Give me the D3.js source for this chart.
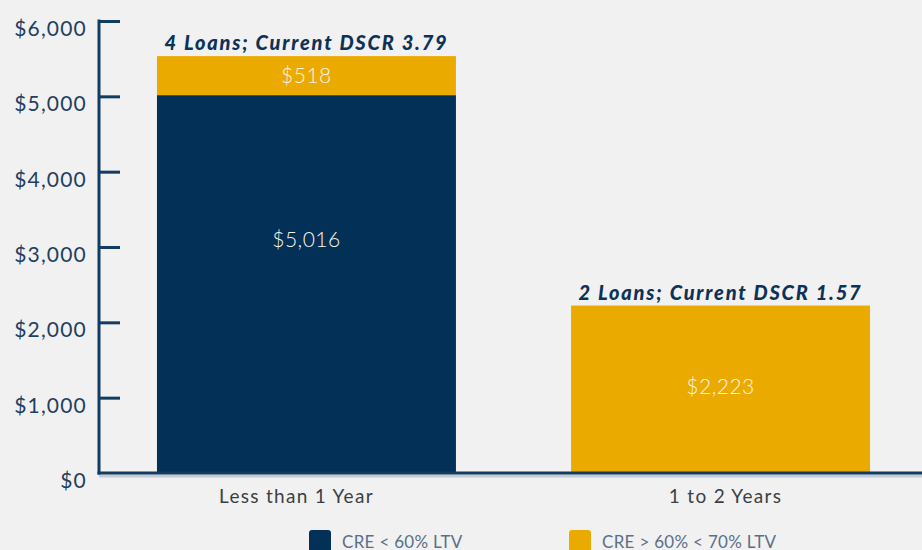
<!DOCTYPE html>
<html>
<head>
<meta charset="utf-8">
<script src="https://cdn.jsdelivr.net/npm/d3@7/dist/d3.min.js"></script>
<style>
  body { margin: 0; background: #f1f1f1; }
  svg { display: block; font-family: Lato, "Open Sans", sans-serif; }
</style>
</head>
<body>
<svg id="canvas"></svg>
<script>
var categories = ["Less than 1 Year", "1 to 2 Years"];
var seriesNames = ["CRE < 60% LTV", "CRE > 60% < 70% LTV"];
var lowLtv = [5016, 0];
var midLtv = [518, 2223];
var barNotes = ["4 Loans; Current DSCR 3.79", "2 Loans; Current DSCR 1.57"];
var yTicks = [0, 1000, 2000, 3000, 4000, 5000, 6000];

var colors = ["#023057", "#eaaa00"];
var navy = "#0d3257";
// where inside each segment its label sits (fraction of segment height)
var labelFrac = [0.62, 0.52];

var width = 922, height = 550;
var svg = d3.select("#canvas").attr("width", width).attr("height", height);

var y = d3.scaleLinear().domain([0, 6000]).range([473, 21]);
var x = d3.scaleBand().domain(categories).range([99, 928]).paddingInner(0.278).paddingOuter(0.14);

var fmt = function(v) { return "$" + d3.format(",")(v); };

var rows = categories.map(function(c, i) { return {cat: c, low: lowLtv[i], mid: midLtv[i], note: barNotes[i]}; });
var stack = d3.stack().keys(["low", "mid"])(rows);

stack.forEach(function(layer, li) {
  var segs = layer.filter(function(d) { return d[1] > d[0]; });
  svg.append("g").selectAll("rect")
    .data(segs)
    .enter().append("rect")
      .attr("x", function(d) { return x(d.data.cat); })
      .attr("y", function(d) { return y(d[1]); })
      .attr("width", x.bandwidth())
      .attr("height", function(d) { return y(d[0]) - y(d[1]); })
      .style("fill", colors[li]);

  svg.append("g").selectAll("text")
    .data(segs)
    .enter().append("text")
      .attr("x", function(d) { return x(d.data.cat) + x.bandwidth() / 2; })
      .attr("y", function(d) { return y(d[0] + (d[1] - d[0]) * labelFrac[li]) + 8; })
      .attr("text-anchor", "middle")
      .style("font-size", "21px")
      .style("font-weight", 300)
      .style("letter-spacing", "0.5px")
      .style("fill", "#fbf6e6")
      .text(function(d) { return fmt(d[1] - d[0]); });
});

// notes above bars
svg.append("g").selectAll("text")
  .data(rows)
  .enter().append("text")
    .attr("x", function(d) { return x(d.cat) + x.bandwidth() / 2; })
    .attr("y", function(d) { return y(d.low + d.mid) - 6; })
    .attr("text-anchor", "middle")
    .style("font-size", "20px")
    .style("font-weight", 900)
    .style("font-style", "italic")
    .style("letter-spacing", "1.8px")
    .style("fill", navy)
    .text(function(d) { return d.note; });

// x axis line with soft shadow
svg.append("line").attr("x1", 99).attr("x2", width).attr("y1", y(0) + 3).attr("y2", y(0) + 3)
  .style("stroke", "#c3cbd4").style("stroke-width", 3);
svg.append("line").attr("x1", 97.5).attr("x2", width).attr("y1", y(0)).attr("y2", y(0))
  .style("stroke", "#123c62").style("stroke-width", 3);

// y axis
var yAxis = d3.axisRight(y).tickValues(yTicks.filter(function(t) { return t > 0; })).tickSize(21).tickFormat("");
var ya = svg.append("g").attr("transform", "translate(99,0)").call(yAxis);
ya.select(".domain").remove();
ya.selectAll(".tick line").style("stroke", "#123c62").style("stroke-width", 3);
svg.append("line").attr("x1", 99).attr("x2", 99).attr("y1", y(6000) - 1.5).attr("y2", y(0) + 1.5)
  .style("stroke", "#123c62").style("stroke-width", 3);

// tick labels sit a little below their ticks, as in the source
svg.append("g").selectAll("text")
  .data(yTicks)
  .enter().append("text")
    .attr("x", 87)
    .attr("y", function(d) { return y(d) + 15; })
    .attr("text-anchor", "end")
    .style("font-size", "21px")
    .style("letter-spacing", "1.2px")
    .style("fill", "#1f3f61")
    .text(fmt);

// x labels
svg.append("g").selectAll("text")
  .data(categories)
  .enter().append("text")
    .attr("x", function(d, i) { return x(d) + x.bandwidth() / 2 + (i ? 5 : -10); })
    .attr("y", 503)
    .attr("text-anchor", "middle")
    .style("font-size", "19px")
    .style("letter-spacing", "1.3px")
    .style("fill", "#3a3f45")
    .text(function(d) { return d; });

// legend
var legendX = [309, 569];
var lg = svg.append("g").selectAll("g")
  .data(seriesNames)
  .enter().append("g")
    .attr("transform", function(d, i) { return "translate(" + legendX[i] + ",530)"; });
lg.append("rect").attr("width", 22).attr("height", 24).attr("rx", 3)
  .style("fill", function(d, i) { return colors[i]; });
lg.append("text").attr("x", 33).attr("y", 18)
  .style("font-size", "17px")
  .style("letter-spacing", "0.3px")
  .style("fill", "#5a6f88")
  .text(function(d) { return d; });
</script>
</body>
</html>
